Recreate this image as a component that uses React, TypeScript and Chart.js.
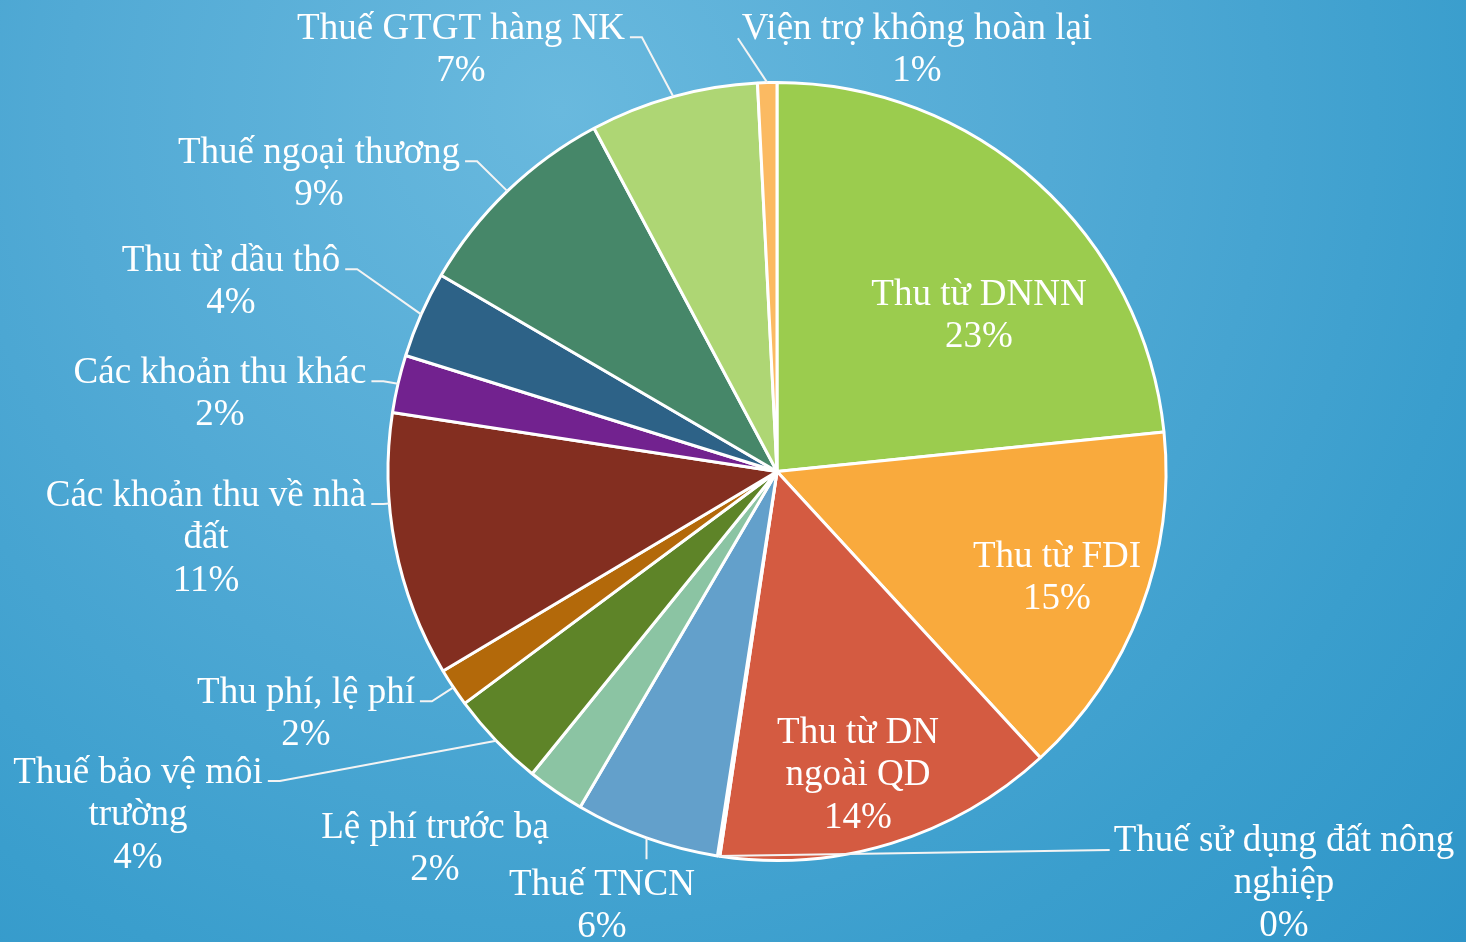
import React, { useEffect, useRef } from "react";
import { Chart, registerables } from "chart.js";

Chart.register(...registerables);

// ---- Data ----
const categories: string[] = [
  "Thu từ DNNN",
  "Thu từ FDI",
  "Thu từ DN ngoài QD",
  "Thuế sử dụng đất nông nghiệp",
  "Thuế TNCN",
  "Lệ phí trước bạ",
  "Thuế bảo vệ môi trường",
  "Thu phí, lệ phí",
  "Các khoản thu về nhà đất",
  "Các khoản thu khác",
  "Thu từ dầu thô",
  "Thuế ngoại thương",
  "Thuế GTGT hàng NK",
  "Viện trợ không hoàn lại",
];

const values: number[] = [23.4, 14.8, 14.2, 0.1, 6.0, 2.4, 4.0, 1.6, 11.0, 2.4, 3.6, 8.8, 7.0, 0.8];

// ---- Styles / layout (kept separate from data) ----
const colors: string[] = [
  "#9BCC4E",
  "#F9AA3D",
  "#D45B41",
  "#C9553C",
  "#63A0CB",
  "#8BC4A3",
  "#5E8428",
  "#B3690A",
  "#832E20",
  "#72228F",
  "#2D6287",
  "#468769",
  "#AED674",
  "#FBBA62",
];

// number of words on the first line of the name (0 = single line)
const breakAfter: number[] = [0, 0, 3, 5, 0, 0, 4, 0, 5, 0, 0, 0, 0, 0];

// text block centre offsets from pie centre
const labelOffsets: [number, number][] = [
  [202, -155],
  [280, 107],
  [81, 304],
  [507, 412],
  [-175, 435],
  [-342, 378],
  [-639, 344],
  [-471, 243],
  [-571, 67],
  [-557, -77],
  [-546, -189],
  [-458, -297],
  [-316, -421],
  [140, -421],
];

type Mode = "none" | "left" | "right" | "top" | "near";
const leaderModes: Mode[] = [
  "none", "none", "none", "right", "top", "none", "left", "left", "near", "left", "left", "left", "left", "right",
];

const FONT = '37px "Liberation Serif", "Times New Roman", serif';
const LINE_H = 42.5;

const labelPlugin = {
  id: "sliceLabels",
  afterDatasetsDraw(chart: any) {
    const ctx: CanvasRenderingContext2D = chart.ctx;
    const meta = chart.getDatasetMeta(0);
    const total = values.reduce((a, b) => a + b, 0);
    ctx.save();
    ctx.font = FONT;
    ctx.fillStyle = "#ffffff";
    ctx.textAlign = "center";
    ctx.textBaseline = "middle";
    meta.data.forEach((arc: any, i: number) => {
      const { x, y, startAngle, endAngle, outerRadius } = arc.getProps(
        ["x", "y", "startAngle", "endAngle", "outerRadius"],
        true
      );
      const words = categories[i].split(" ");
      const b = breakAfter[i];
      const lines =
        b > 0 ? [words.slice(0, b).join(" "), words.slice(b).join(" ")] : [categories[i]];
      lines.push(Math.round((values[i] / total) * 100) + "%");
      const cx = x + labelOffsets[i][0];
      const cy = y + labelOffsets[i][1];
      const n = lines.length;
      lines.forEach((l, k) => ctx.fillText(l, cx, cy + (k - (n - 1) / 2) * LINE_H));

      const mode = leaderModes[i];
      if (mode === "none") return;
      const firstY = cy - ((n - 1) / 2) * LINE_H;
      const w0 = ctx.measureText(lines[0]).width;
      const mid = (startAngle + endAngle) / 2;
      const ax = x + Math.cos(mid) * outerRadius;
      const ay = y + Math.sin(mid) * outerRadius;
      ctx.strokeStyle = "#F4F4F4";
      ctx.lineWidth = 2;
      ctx.beginPath();
      if (mode === "left" || mode === "near") {
        const sx = cx + w0 / 2 + 5;
        const sy = firstY + 8;
        const ex = sx + 12;
        ctx.moveTo(sx, sy);
        ctx.lineTo(ex, sy);
        if (mode === "left") {
          ctx.lineTo(ax, ay);
        } else {
          const dx = ex - x;
          const dy = sy - y;
          const d = Math.hypot(dx, dy);
          ctx.lineTo(x + (dx / d) * outerRadius, y + (dy / d) * outerRadius);
        }
      } else if (mode === "right") {
        ctx.moveTo(cx - w0 / 2 - 4, firstY + 9);
        ctx.lineTo(ax, ay);
      } else if (mode === "top") {
        ctx.moveTo(ax, ay);
        ctx.lineTo(ax, firstY - 26);
      }
      ctx.stroke();
    });
    ctx.restore();
  },
};

export default function App() {
  const ref = useRef<HTMLCanvasElement | null>(null);
  useEffect(() => {
    if (!ref.current) return;
    const chart = new Chart(ref.current, {
      type: "pie",
      data: {
        labels: categories,
        datasets: [
          {
            data: values,
            backgroundColor: colors,
            borderColor: "#ffffff",
            borderWidth: 3,
          },
        ],
      },
      options: {
        responsive: false,
        animation: false,
        layout: { padding: { top: 81, bottom: 80, left: 300, right: 212 } },
        plugins: {
          legend: { display: false },
          tooltip: { enabled: false },
        },
      },
      plugins: [labelPlugin],
    });
    return () => chart.destroy();
  }, []);
  return (
    <div
      style={{
        position: "fixed",
        left: 0,
        top: 0,
        width: 1466,
        height: 942,
        background:
          "radial-gradient(circle farthest-corner at 560px 110px, #69B9DE 0%, #52AAD5 40%, #3A9ECD 75%, #2E95C8 100%)",
      }}
    >
      <canvas ref={ref} width={1466} height={942} style={{ display: "block" }} />
    </div>
  );
}
